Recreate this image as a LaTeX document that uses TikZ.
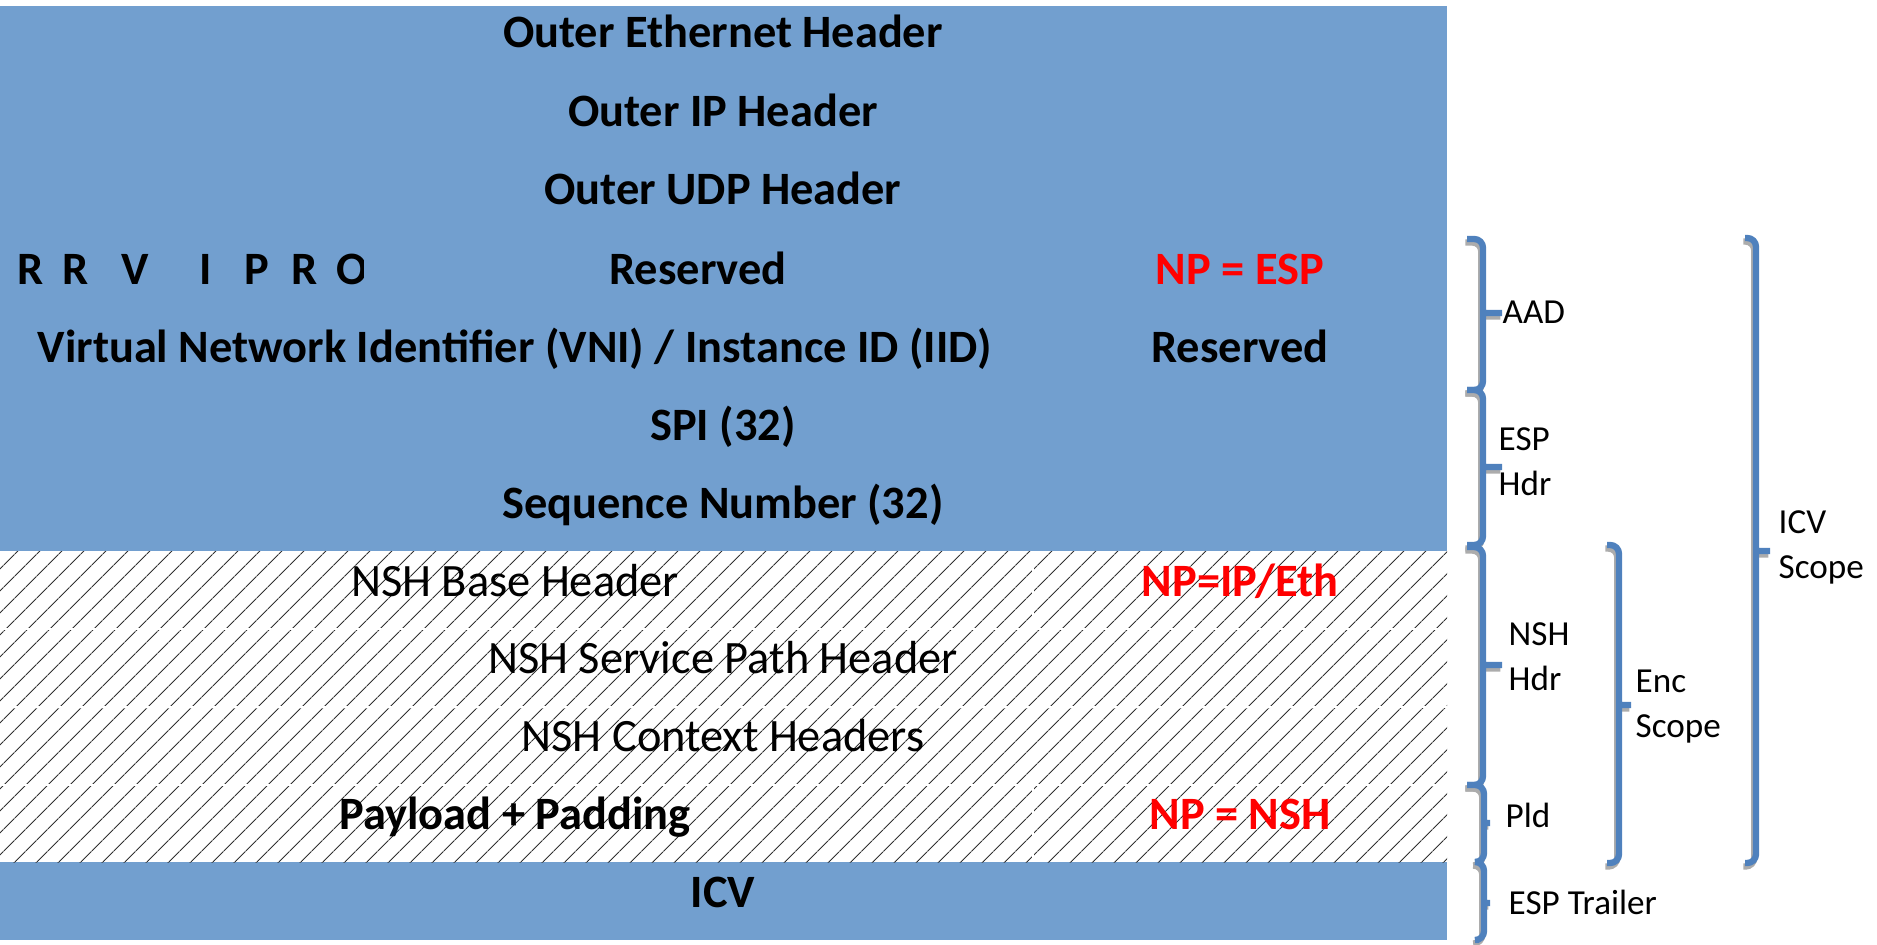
\documentclass[tikz,border=0pt]{standalone}
\usepackage{fontspec}
\setmainfont{Carlito}
\usetikzlibrary{patterns.meta}
\definecolor{hdrblue}{HTML}{729FCF}
\definecolor{braceblue}{HTML}{4F81BD}
\begin{document}
\begin{tikzpicture}[
  field/.style={font=\bfseries\fontsize{13.2}{15}\selectfont, anchor=base},
  plain/.style={font=\fontsize{13.2}{15}\selectfont, anchor=base},
  np/.style={field, text=red},
  lbl/.style={font=\fontsize{10}{12.8}\selectfont, anchor=west, align=left, inner sep=0pt},
  hatch/.style={pattern={Lines[angle=45,distance=4.35pt,line width=0.3pt]}, pattern color=black!80},
  gap/.style={draw=white, line width=0.4pt},
  brace/.style={draw=braceblue, line width=1.8pt, rounded corners=2.5pt,
    preaction={draw=gray!65, line width=1.8pt, transform canvas={shift={(-0.5pt,-1pt)}}}}
]
\useasboundingbox (0,0) rectangle (18.77,-9.44);

\fill[hdrblue] (0,-0.06) rectangle (14.47,-5.51);
\fill[hdrblue] (0,-8.62) rectangle (14.47,-9.40);
\fill[hatch] (0,-5.51) rectangle (14.47,-8.62);
\draw[gap] (0,-6.29) -- (14.47,-6.29);
\draw[gap] (0,-7.07) -- (14.47,-7.07);
\draw[gap] (0,-7.85) -- (14.47,-7.85);
\draw[gap] (10.33,-5.51) -- (10.33,-6.29);
\draw[gap] (10.33,-7.85) -- (10.33,-8.62);

\node[field] (t-eth) at (7.23,-0.48) {Outer Ethernet Header};
\node[field] (t-ip) at (7.23,-1.26) {Outer IP Header};
\node[field] (t-udp) at (7.23,-2.04) {Outer UDP Header};
\begin{scope}
\clip (0,-2.45) rectangle (3.63,-3.00);
\foreach \l/\x [count=\i] in {R/0.31,R/0.76,V/1.35,I/2.06,P/2.57,R/3.05,O/3.52}
  \node[field] (flag\i) at (\x,-2.84) {\l};
\end{scope}
\node[field] (t-rsv1) at (6.98,-2.84) {Reserved};
\node[np] (t-npesp) at (12.40,-2.84) {NP = ESP};
\node[field] (t-vni) at (5.15,-3.62) {Virtual Network Identifier (VNI) / Instance ID (IID)};
\node[field] (t-rsv2) at (12.40,-3.62) {Reserved};
\node[field] (t-spi) at (7.23,-4.40) {SPI (32)};
\node[field] (t-seq) at (7.23,-5.18) {Sequence Number (32)};
\node[plain] (t-base) at (5.15,-5.96) {NSH Base Header};
\node[np] (t-npip) at (12.40,-5.96) {NP=IP/Eth};
\node[plain] (t-sph) at (7.23,-6.73) {NSH Service Path Header};
\node[plain] (t-ctx) at (7.23,-7.51) {NSH Context Headers};
\node[field] (t-pld) at (5.15,-8.29) {Payload + Padding};
\node[np] (t-npnsh) at (12.40,-8.29) {NP = NSH};
\node[field] (t-icv) at (7.23,-9.07) {ICV};

\draw[brace] (14.67,-2.39) -- (14.83,-2.39) -- (14.83,-3.90) -- (14.67,-3.90) (14.83,-3.13) -- (15.02,-3.13);
\draw[brace] (14.67,-3.90) -- (14.83,-3.90) -- (14.83,-5.45) -- (14.67,-5.45) (14.83,-4.67) -- (15.02,-4.67);
\draw[brace] (14.67,-5.47) -- (14.83,-5.47) -- (14.83,-7.85) -- (14.67,-7.85) (14.83,-6.65) -- (15.02,-6.65);
\draw[brace] (14.67,-7.85) -- (14.84,-7.85) -- (14.84,-8.62) -- (14.79,-8.62) (14.84,-8.23) -- (14.90,-8.23);
\draw[brace] (14.79,-8.62) -- (14.84,-8.62) -- (14.84,-9.40) -- (14.79,-9.40) (14.84,-9.03) -- (14.90,-9.03);
\draw[brace] (16.07,-5.45) -- (16.19,-5.45) -- (16.19,-8.63) -- (16.07,-8.63) (16.19,-7.05) -- (16.31,-7.05);
\draw[brace] (17.45,-2.38) -- (17.56,-2.38) -- (17.56,-8.63) -- (17.45,-8.63) (17.56,-5.51) -- (17.70,-5.51);

\node[lbl] (l-aad) at (15.02,-3.12) {AAD};
\node[lbl] (l-esphdr) at (14.98,-4.62) {ESP\\Hdr};
\node[lbl] (l-nshhdr) at (15.08,-6.57) {NSH\\Hdr};
\node[lbl] (l-pld) at (15.05,-8.15) {Pld};
\node[lbl] (l-trl) at (15.08,-9.02) {ESP Trailer};
\node[lbl] (l-enc) at (16.35,-7.07) {Enc\\Scope};
\node[lbl] (l-icv) at (17.78,-5.47) {ICV\\Scope};
\end{tikzpicture}
\end{document}
